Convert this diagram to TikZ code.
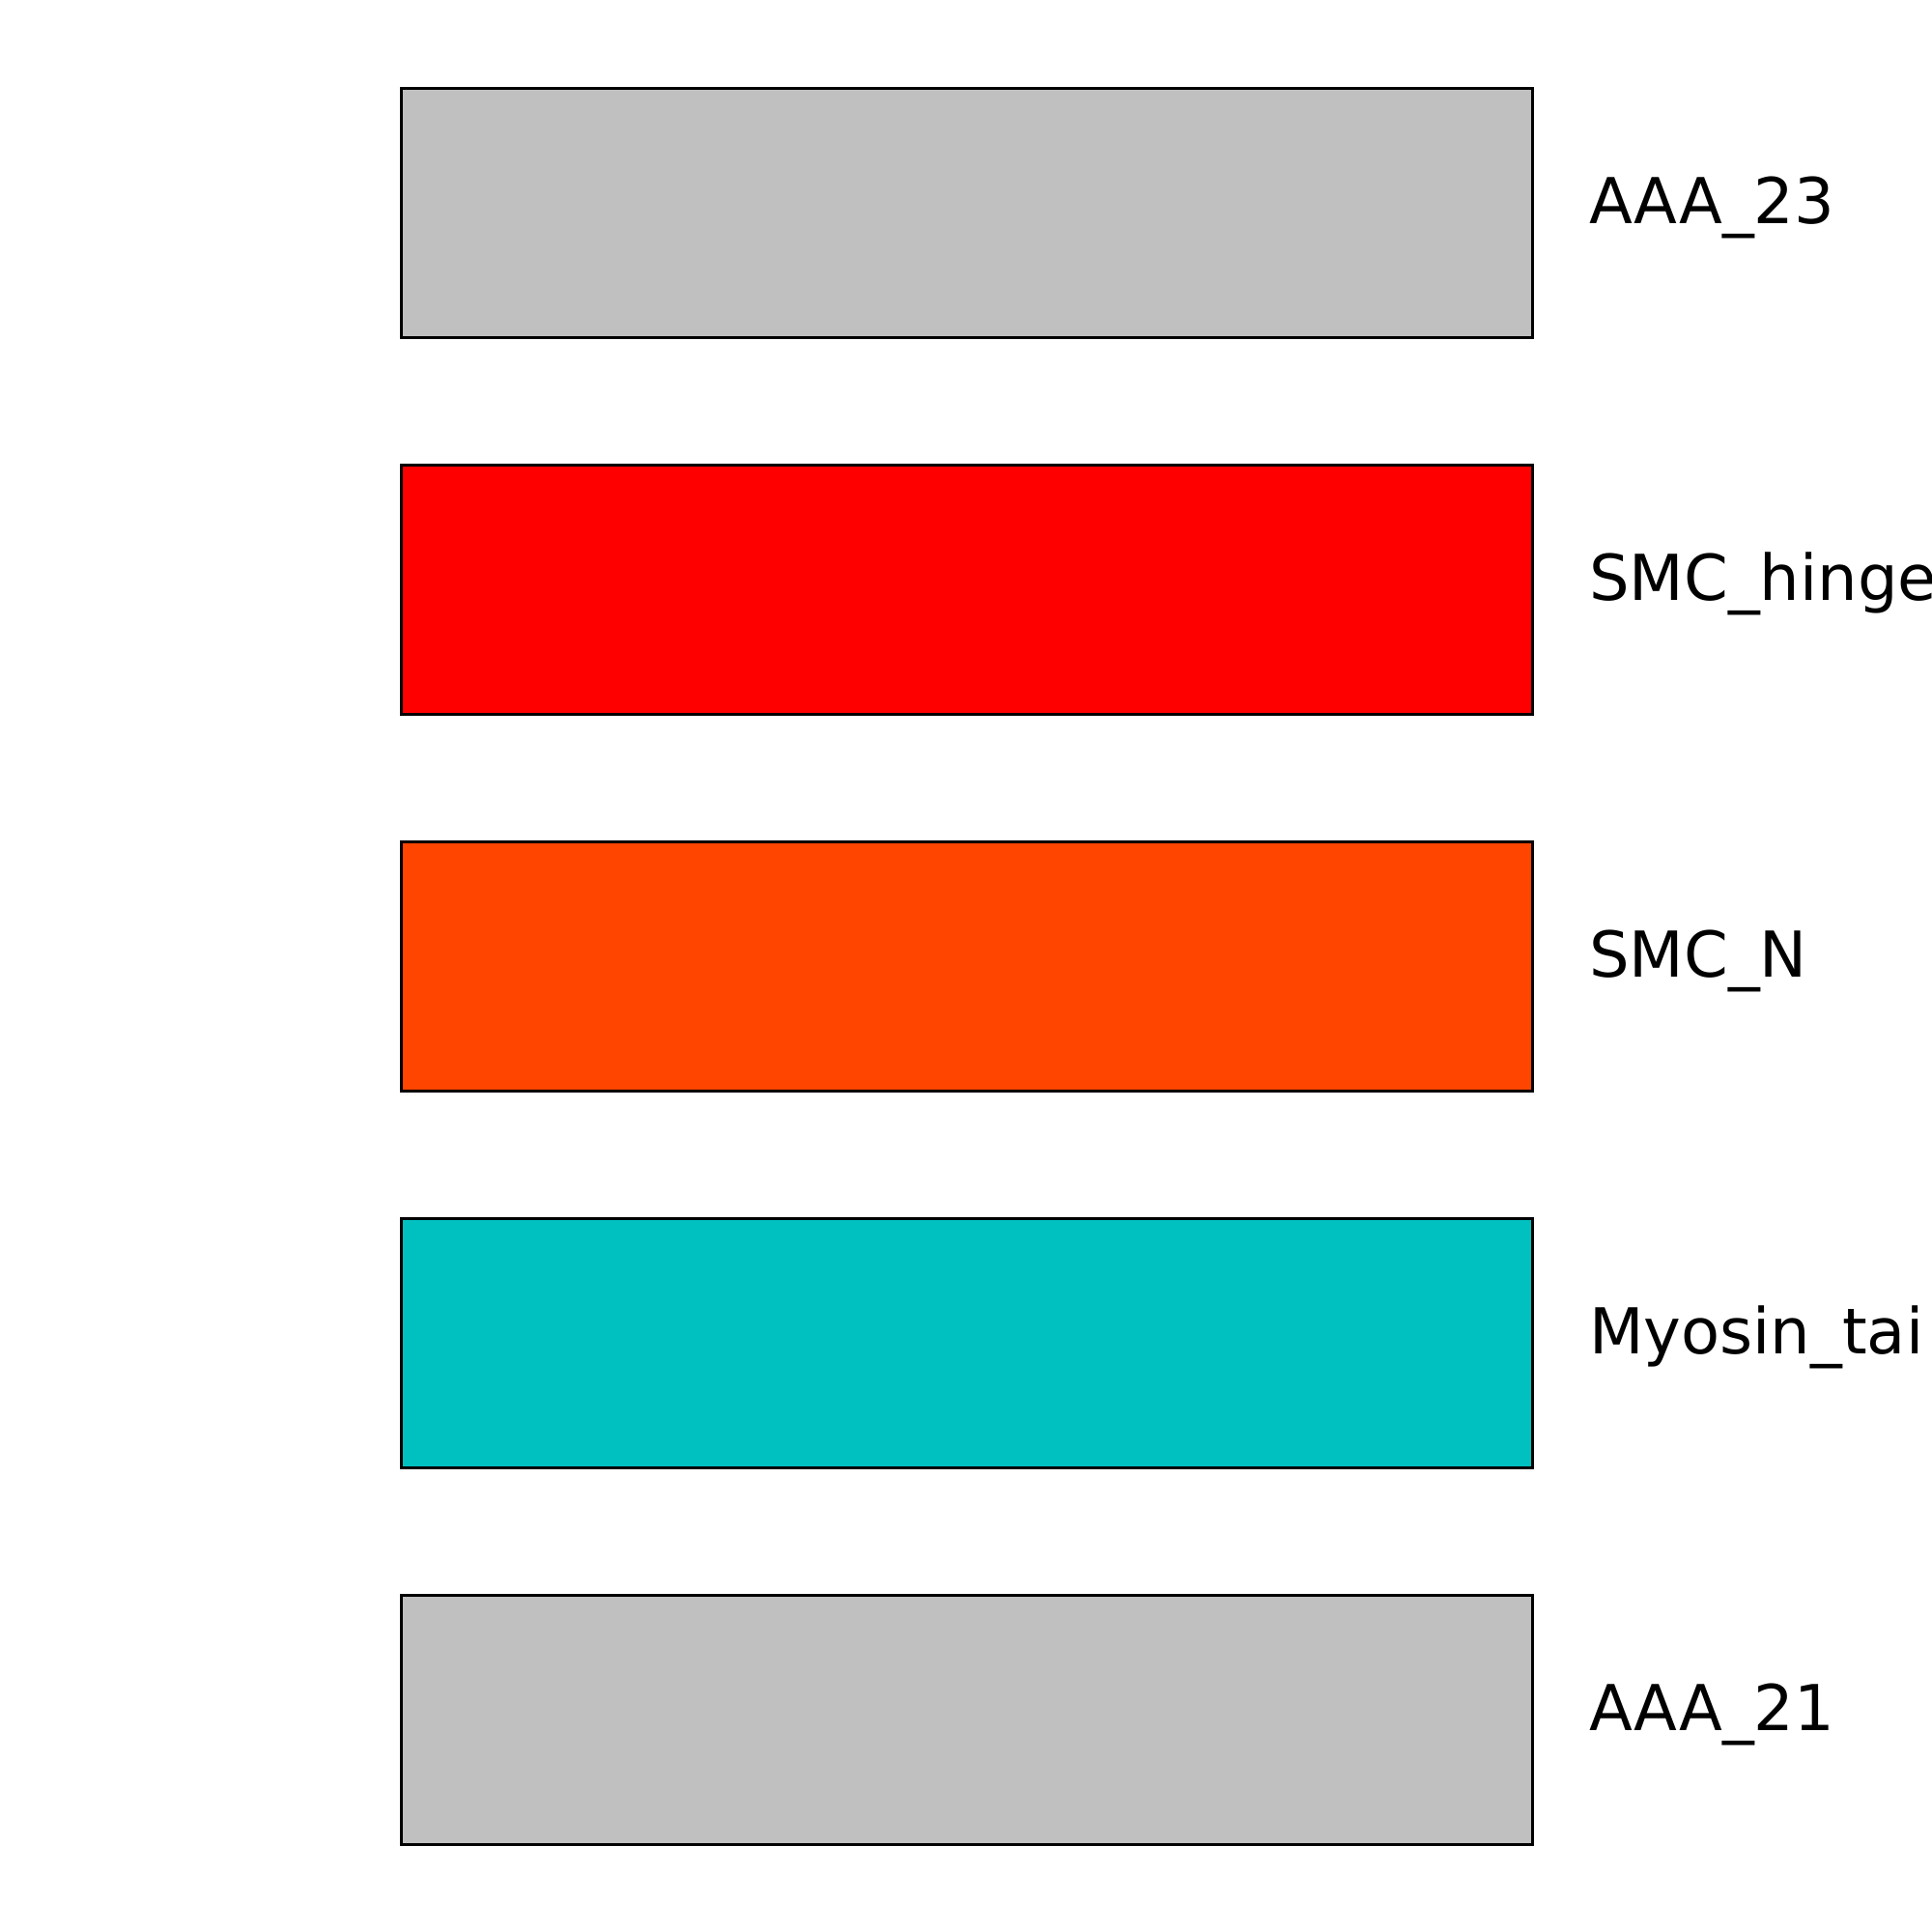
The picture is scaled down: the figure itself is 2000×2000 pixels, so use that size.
\documentclass[tikz,border=0pt]{standalone}
\usepackage{fontspec}
\setmainfont{DejaVu Sans}
\definecolor{cgray}{RGB}{192,192,192}
\definecolor{cred}{RGB}{255,0,0}
\definecolor{corange}{RGB}{255,69,0}
\definecolor{cteal}{RGB}{0,192,192}
\tikzset{dombox/.style={draw=black,line width=2.5pt,inner sep=0pt,minimum width=1171pt,minimum height=258pt,anchor=north west},
lbl/.style={anchor=base west,inner sep=0pt,font=\fontsize{65.5}{78}\selectfont}}
\begin{document}
\begin{tikzpicture}[x=1pt,y=-1pt]
\useasboundingbox (0,0) rectangle (2000,2000);
\clip (0,0) rectangle (2000,2000);
\fill[white] (0,0) rectangle (2000,2000);
\node[dombox,fill=cgray] (b1) at (414,90) {};
\node[dombox,fill=cred] (b2) at (414,480) {};
\node[dombox,fill=corange] (b3) at (414,870) {};
\node[dombox,fill=cteal] (b4) at (414,1260) {};
\node[dombox,fill=cgray] (b5) at (414,1650) {};
\node[lbl] (l1) at (1645,231.7) {AAA\_23};
\node[lbl] (l2) at (1645,621.7) {SMC\_hinge};
\node[lbl] (l3) at (1645,1011.7) {SMC\_N};
\begin{scope}
\clip (1600,1300) rectangle (1994,1450);
\node[lbl] (l4) at (1645,1401.7) {Myosin\_tail\_1};
\end{scope}
\node[lbl] (l5) at (1645,1791.7) {AAA\_21};
\end{tikzpicture}
\end{document}
